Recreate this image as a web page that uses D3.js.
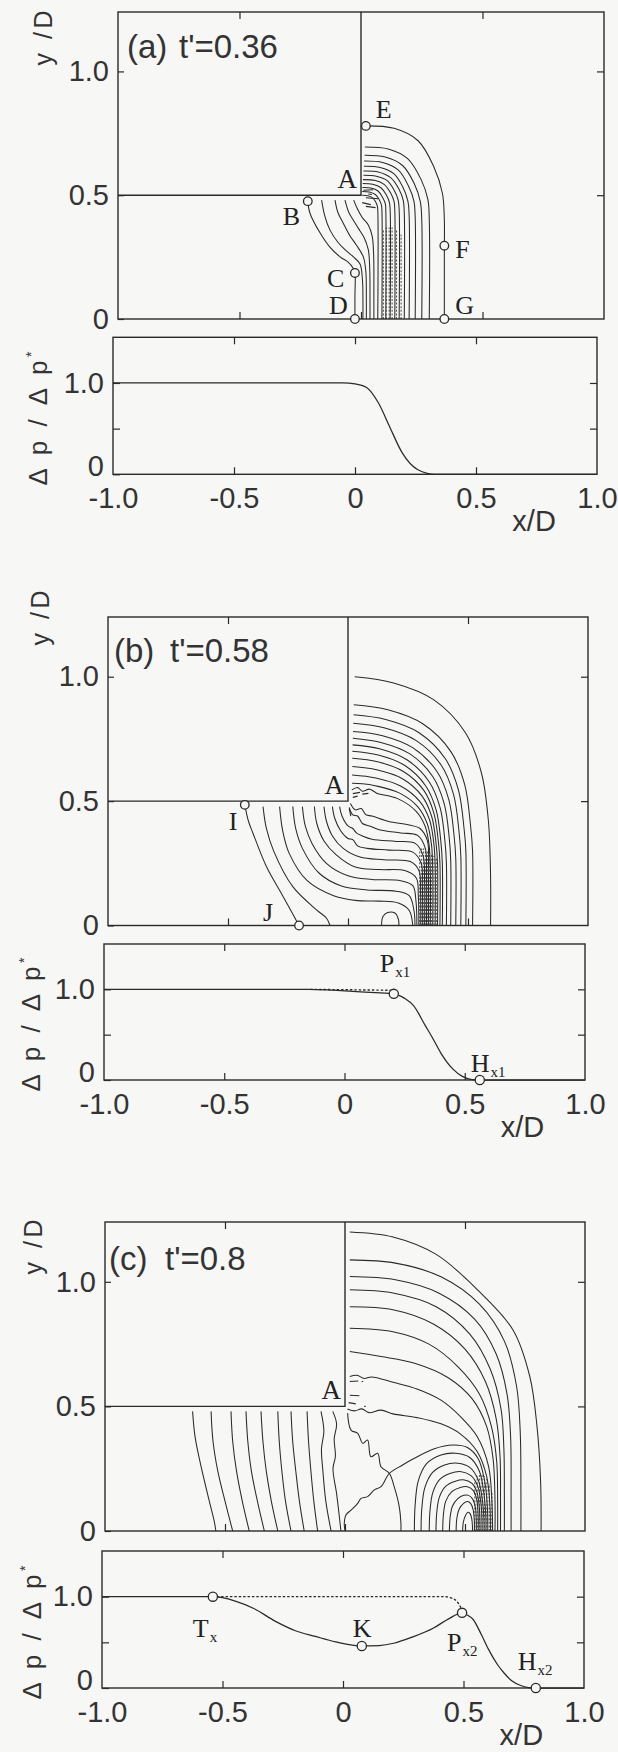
<!DOCTYPE html>
<html>
<head>
<meta charset="utf-8">
<script src="https://cdn.jsdelivr.net/npm/d3@7"></script>
<style>
  html, body { margin: 0; padding: 0; background: #f7f7f6; }
  svg { display: block; }
</style>
</head>
<body>
<svg id="fig" width="618" height="1752"></svg>
<script>
// ---------------- axis values and labels ----------------
const xTicks = [-1.0, -0.5, 0, 0.5, 1.0];
const xTickLabels = ["-1.0", "-0.5", "0", "0.5", "1.0"];
const fieldYTicks = [0, 0.5, 1.0];
const fieldYTickLabels = ["0", "0.5", "1.0"];
const profYTicks = [0, 0.5, 1.0];
const profYTickLabels = ["0", "", "1.0"];
const panelNames = ["(a)", "(b)", "(c)"];
const panelTimes = ["t'=0.36", "t'=0.58", "t'=0.8"];
const FIELD_TOP = 1.24;   // y/D at the top of the contour frames
const PROF_TOP = 1.5;     // Δp/Δp* at the top of the profile frames
const stepY = 0.5;        // lower face of the step, corner A at (0, 0.5)

// ---------------- pressure contours, t'=0.36 ----------------
const fieldA = [
  [[0.02,0.78],[0.136,0.77],[0.235,0.72],[0.30,0.614],[0.335,0.508],[0.343,0.40],[0.343,0.29],[0.343,0]],
  [[0.016,0.695],[0.112,0.687],[0.192,0.648],[0.246,0.566],[0.275,0.484],[0.281,0.40],[0.281,0]],
  [[0.015,0.661],[0.10,0.654],[0.171,0.62],[0.219,0.547],[0.244,0.474],[0.25,0.40],[0.25,0]],
  [[0.013,0.638],[0.089,0.632],[0.153,0.602],[0.195,0.538],[0.218,0.475],[0.223,0.41],[0.223,0]],
  [[0.012,0.617],[0.079,0.612],[0.136,0.586],[0.173,0.531],[0.193,0.476],[0.198,0.42],[0.198,0]],
  [[0.01,0.598],[0.071,0.594],[0.122,0.571],[0.156,0.525],[0.174,0.478],[0.178,0.43],[0.178,0]],
  [[0.01,0.581],[0.063,0.577],[0.108,0.559],[0.137,0.519],[0.153,0.48],[0.157,0.44],[0.157,0]],
  [[0.008,0.563],[0.056,0.56],[0.095,0.544],[0.122,0.509],[0.136,0.475],[0.139,0.44],[0.139,0]],
  [[0.007,0.547],[0.048,0.544],[0.082,0.53],[0.105,0.5],[0.117,0.47],[0.12,0.44],[0.12,0]],
  [[0.006,0.531],[0.041,0.529],[0.07,0.517],[0.089,0.491],[0.1,0.466],[0.102,0.44],[0.102,0]],
  [[0.005,0.515],[0.034,0.513],[0.059,0.503],[0.075,0.482],[0.084,0.461],[0.086,0.44],[0.086,0]],
  [[0.005,0.50],[0.028,0.498],[0.047,0.49],[0.06,0.474],[0.067,0.457],[0.069,0.44],[0.069,0]],
  [[-0.219,0.476],[-0.21,0.427],[-0.17,0.35],[-0.128,0.29],[-0.085,0.25],[-0.053,0.23],[-0.032,0.205],[-0.025,0.186],[-0.025,0.09],[-0.025,0]],
  [[-0.162,0.48],[-0.15,0.42],[-0.128,0.36],[-0.095,0.31],[-0.066,0.28],[-0.03,0.25],[-0.004,0.222],[0.006,0.157],[0.008,0.07],[0.008,0]],
  [[-0.107,0.48],[-0.095,0.43],[-0.072,0.385],[-0.045,0.335],[-0.02,0.3],[0.01,0.25],[0.02,0.19],[0.022,0.08],[0.022,0]],
  [[-0.066,0.48],[-0.05,0.43],[-0.032,0.40],[-0.01,0.365],[0.012,0.33],[0.03,0.28],[0.036,0.2],[0.037,0.08],[0.037,0]],
  [[-0.03,0.48],[-0.015,0.445],[0.005,0.41],[0.03,0.38],[0.046,0.335],[0.052,0.26],[0.053,0.1],[0.053,0]]
];
const noiseA = [
  [[0.01,0.52],[0.05,0.522]], [[0.02,0.49],[0.07,0.486]], [[0.005,0.47],[0.04,0.462]],
  [[0.02,0.455],[0.06,0.45]], [[0.03,0.505],[0.045,0.503]]
];
const denseA = [[0.092,0.36],[0.104,0.37],[0.116,0.37],[0.128,0.37],[0.146,0.36],[0.165,0.34]];

// ---------------- pressure contours, t'=0.58 ----------------
const fieldB = [
  [[0.028,1.0],[0.19,0.975],[0.358,0.907],[0.49,0.774],[0.556,0.613],[0.585,0.42],[0.594,0.2],[0.594,0]],
  [[0.024,0.887],[0.166,0.867],[0.313,0.81],[0.428,0.70],[0.486,0.567],[0.511,0.398],[0.519,0.3],[0.519,0]],
  [[0.023,0.847],[0.157,0.828],[0.296,0.775],[0.405,0.671],[0.46,0.545],[0.484,0.386],[0.491,0.3],[0.491,0]],
  [[0.022,0.813],[0.15,0.795],[0.283,0.744],[0.388,0.645],[0.44,0.526],[0.463,0.373],[0.47,0.28],[0.47,0]],
  [[0.021,0.78],[0.144,0.763],[0.271,0.714],[0.37,0.62],[0.42,0.506],[0.442,0.361],[0.449,0.27],[0.449,0]],
  [[0.02,0.753],[0.137,0.736],[0.258,0.69],[0.353,0.599],[0.401,0.489],[0.422,0.35],[0.428,0.26],[0.428,0]],
  [[0.019,0.726],[0.131,0.71],[0.247,0.665],[0.338,0.578],[0.384,0.473],[0.404,0.338],[0.41,0.25],[0.41,0]],
  [[0.018,0.70],[0.126,0.685],[0.237,0.643],[0.324,0.561],[0.368,0.462],[0.387,0.336],[0.393,0.25],[0.393,0]],
  [[0.018,0.672],[0.123,0.658],[0.231,0.619],[0.316,0.543],[0.358,0.451],[0.377,0.333],[0.383,0.25],[0.383,0]],
  [[0.018,0.639],[0.119,0.626],[0.225,0.591],[0.308,0.521],[0.349,0.437],[0.367,0.33],[0.373,0.25],[0.373,0]],
  [[0.017,0.605],[0.116,0.593],[0.219,0.561],[0.299,0.499],[0.34,0.424],[0.358,0.327],[0.363,0.25],[0.363,0]],
  [[0.017,0.572],[0.06,0.57],[0.113,0.562],[0.213,0.533],[0.291,0.477],[0.33,0.41],[0.348,0.324],[0.353,0.22],[0.353,0]],
  [[0.016,0.545],[0.04,0.555],[0.06,0.54],[0.09,0.548],[0.12,0.532],[0.207,0.51],[0.283,0.46],[0.321,0.40],[0.338,0.322],[0.343,0.22],[0.343,0]],
  [[-0.43,0.485],[-0.415,0.42],[-0.396,0.371],[-0.34,0.237],[-0.27,0.116],[-0.204,0]],
  [[-0.354,0.478],[-0.34,0.39],[-0.31,0.30],[-0.23,0.156],[-0.13,0.062],[-0.09,0.03],[-0.075,0]],
  [[-0.285,0.478],[-0.272,0.38],[-0.245,0.29],[-0.17,0.18],[-0.06,0.12],[0.04,0.10],[0.13,0.098],[0.21,0.09],[0.255,0.06],[0.27,0]],
  [[-0.23,0.478],[-0.218,0.39],[-0.19,0.31],[-0.12,0.21],[-0.03,0.16],[0.08,0.143],[0.2,0.138],[0.255,0.12],[0.275,0.06],[0.279,0]],
  [[-0.19,0.478],[-0.178,0.40],[-0.15,0.33],[-0.09,0.25],[0.0,0.2],[0.1,0.185],[0.22,0.18],[0.27,0.16],[0.283,0.1],[0.287,0]],
  [[-0.14,0.478],[-0.13,0.41],[-0.1,0.34],[-0.05,0.285],[0.03,0.235],[0.13,0.225],[0.24,0.22],[0.285,0.19],[0.293,0.12],[0.295,0]],
  [[-0.10,0.478],[-0.09,0.42],[-0.065,0.36],[-0.02,0.31],[0.05,0.275],[0.15,0.264],[0.26,0.257],[0.296,0.22],[0.302,0.14],[0.303,0]],
  [[-0.065,0.478],[-0.055,0.43],[-0.03,0.38],[0.0,0.35],[0.02,0.345],[0.04,0.32],[0.08,0.31],[0.17,0.303],[0.27,0.295],[0.305,0.25],[0.31,0.16],[0.311,0]],
  [[-0.035,0.478],[-0.025,0.44],[0.0,0.40],[0.02,0.39],[0.035,0.372],[0.06,0.36],[0.1,0.347],[0.2,0.338],[0.28,0.33],[0.313,0.28],[0.319,0.18],[0.319,0]],
  [[0.005,0.475],[0.02,0.445],[0.04,0.44],[0.06,0.41],[0.09,0.40],[0.13,0.385],[0.22,0.372],[0.29,0.362],[0.322,0.31],[0.327,0.2],[0.327,0]],
  [[0.01,0.49],[0.03,0.465],[0.055,0.47],[0.075,0.445],[0.1,0.44],[0.17,0.418],[0.25,0.405],[0.3,0.39],[0.331,0.34],[0.335,0.22],[0.335,0]],
  [[0.14,0],[0.145,0.035],[0.165,0.052],[0.195,0.05],[0.21,0.025],[0.212,0]]
];
const noiseB = [
  [[0.02,0.53],[0.05,0.535]], [[0.06,0.528],[0.085,0.531]], [[0.02,0.515],[0.04,0.52]], [[0.005,0.47],[0.012,0.44]]
];
const denseB = [[0.299,0.3],[0.307,0.31],[0.315,0.31],[0.323,0.31],[0.331,0.3],[0.339,0.3],[0.348,0.29],[0.358,0.28],[0.368,0.27]];

// ---------------- pressure contours, t'=0.8 ----------------
const fieldC = [
  [[0.02,1.20],[0.2,1.18],[0.38,1.11],[0.55,0.97],[0.70,0.807],[0.77,0.62],[0.80,0.42],[0.815,0.2],[0.817,0]],
  [[0.02,1.088],[0.21,1.075],[0.4,1.02],[0.56,0.91],[0.665,0.76],[0.715,0.58],[0.73,0.4],[0.733,0.15],[0.733,0]],
  [[0.02,1.021],[0.21,1.008],[0.39,0.955],[0.54,0.85],[0.63,0.71],[0.675,0.55],[0.69,0.38],[0.692,0.15],[0.692,0]],
  [[0.02,0.968],[0.2,0.955],[0.38,0.9],[0.52,0.79],[0.605,0.65],[0.65,0.49],[0.662,0.33],[0.664,0.15],[0.664,0]],
  [[0.02,0.90],[0.2,0.888],[0.37,0.83],[0.5,0.73],[0.585,0.60],[0.63,0.45],[0.646,0.3],[0.648,0.12],[0.648,0]],
  [[0.02,0.814],[0.2,0.80],[0.35,0.75],[0.47,0.66],[0.56,0.55],[0.61,0.42],[0.632,0.28],[0.636,0.12],[0.636,0]],
  [[0.02,0.72],[0.15,0.70],[0.29,0.673],[0.43,0.615],[0.53,0.53],[0.59,0.42],[0.617,0.29],[0.625,0.12],[0.625,0]],
  [[0.02,0.62],[0.05,0.625],[0.08,0.612],[0.11,0.618],[0.2,0.597],[0.3,0.57],[0.4,0.525],[0.48,0.46],[0.55,0.38],[0.598,0.26],[0.612,0.12],[0.615,0]],
  [[0.01,0.49],[0.04,0.482],[0.07,0.49],[0.1,0.475],[0.15,0.485],[0.2,0.47],[0.3,0.455],[0.4,0.43],[0.48,0.39],[0.55,0.32],[0.59,0.22],[0.604,0.1],[0.606,0]],
  [[0.0,0],[-0.003,0.03],[0.004,0.064],[0.025,0.084],[0.053,0.111],[0.067,0.131],[0.094,0.138],[0.122,0.165],[0.15,0.178],[0.185,0.231],[0.24,0.265],[0.289,0.292],[0.372,0.33],[0.45,0.345],[0.51,0.335],[0.555,0.29],[0.582,0.2],[0.593,0.1],[0.595,0]],
  [[0.011,0.473],[0.025,0.405],[0.053,0.392],[0.074,0.352],[0.094,0.365],[0.108,0.298],[0.136,0.312],[0.15,0.258],[0.185,0.231],[0.205,0.178],[0.226,0.098],[0.233,0.031],[0.233,0]],
  [[0.289,0],[0.292,0.1],[0.305,0.2],[0.34,0.27],[0.40,0.305],[0.46,0.312],[0.52,0.295],[0.56,0.24],[0.58,0.14],[0.587,0.05],[0.587,0]],
  [[0.317,0],[0.32,0.09],[0.333,0.175],[0.365,0.235],[0.415,0.265],[0.47,0.272],[0.52,0.255],[0.555,0.205],[0.573,0.12],[0.579,0.04],[0.579,0]],
  [[0.351,0],[0.354,0.08],[0.366,0.155],[0.395,0.207],[0.44,0.232],[0.485,0.238],[0.525,0.222],[0.553,0.18],[0.567,0.105],[0.571,0.035],[0.571,0]],
  [[0.379,0],[0.382,0.07],[0.393,0.135],[0.42,0.18],[0.46,0.2],[0.498,0.205],[0.53,0.19],[0.55,0.155],[0.56,0.09],[0.563,0]],
  [[0.407,0],[0.41,0.065],[0.42,0.12],[0.445,0.158],[0.48,0.175],[0.51,0.178],[0.535,0.162],[0.549,0.125],[0.555,0.06],[0.555,0]],
  [[0.435,0],[0.438,0.055],[0.448,0.1],[0.47,0.13],[0.495,0.143],[0.515,0.143],[0.532,0.128],[0.543,0.095],[0.547,0.045],[0.547,0]],
  [[0.463,0],[0.466,0.05],[0.476,0.088],[0.493,0.11],[0.51,0.118],[0.524,0.11],[0.534,0.085],[0.539,0.04],[0.539,0]],
  [[0.49,0],[0.493,0.035],[0.502,0.062],[0.512,0.075],[0.521,0.07],[0.528,0.05],[0.531,0.02],[0.531,0]],
  [[-0.635,0.48],[-0.625,0.38],[-0.60,0.26],[-0.568,0.13],[-0.545,0.04],[-0.538,0]],
  [[-0.558,0.48],[-0.55,0.36],[-0.53,0.24],[-0.5,0.12],[-0.468,0]],
  [[-0.475,0.48],[-0.468,0.36],[-0.452,0.24],[-0.428,0.12],[-0.399,0]],
  [[-0.4125,0.48],[-0.405,0.36],[-0.39,0.24],[-0.365,0.12],[-0.336,0]],
  [[-0.35,0.48],[-0.342,0.36],[-0.328,0.24],[-0.307,0.12],[-0.28,0]],
  [[-0.28,0.48],[-0.274,0.36],[-0.263,0.24],[-0.248,0.12],[-0.225,0]],
  [[-0.225,0.48],[-0.218,0.36],[-0.205,0.24],[-0.19,0.12],[-0.17,0]],
  [[-0.158,0.48],[-0.152,0.36],[-0.142,0.24],[-0.13,0.12],[-0.114,0]],
  [[-0.1,0.48],[-0.088,0.40],[-0.098,0.33],[-0.092,0.24],[-0.08,0.12],[-0.058,0]],
  [[-0.051,0.48],[-0.035,0.43],[-0.045,0.37],[-0.04,0.3],[-0.05,0.25],[-0.035,0.15],[-0.025,0.07],[-0.017,0]]
];
const noiseC = [
  [[0.02,0.60],[0.055,0.602]], [[0.07,0.60],[0.076,0.60]], [[0.02,0.545],[0.06,0.543]],
  [[0.015,0.515],[0.045,0.51]], [[0.08,0.50],[0.086,0.50]]
];
const denseC = [[0.541,0.2],[0.551,0.22],[0.561,0.23],[0.571,0.23],[0.581,0.22],[0.591,0.21],[0.601,0.19],[0.612,0.16]];

// ---------------- labelled points in the contour frames ----------------
const fieldMarksA = [
  {name:"E", x:0.02, y:0.78}, {name:"B", x:-0.219, y:0.476}, {name:"C", x:-0.025, y:0.186},
  {name:"D", x:-0.025, y:0}, {name:"F", x:0.343, y:0.296}, {name:"G", x:0.343, y:0}
];
const fieldMarksB = [{name:"I", x:-0.43, y:0.485}, {name:"J", x:-0.204, y:0}];
const fieldMarksC = [];

// ---------------- Δp/Δp* profiles along the floor ----------------
const profA = [[-1,1],[-0.3,1],[-0.05,1],[0.0,0.99],[0.048,0.95],[0.097,0.78],[0.145,0.51],[0.194,0.24],[0.26,0.05],[0.33,0],[1,0]];
const profADot = [];
const profB = [[-1,1],[-0.15,1],[-0.05,0.99],[0.05,0.975],[0.15,0.96],[0.205,0.95],[0.25,0.9],[0.287,0.82],[0.336,0.6],[0.369,0.45],[0.40,0.3],[0.451,0.12],[0.49,0.04],[0.53,0.005],[0.5625,0],[1,0]];
const profBDot = [[-0.14,1.0],[0.195,0.99]];
const profC = [[-1,1],[-0.54,1],[-0.45,0.955],[-0.37,0.87],[-0.28,0.73],[-0.2,0.63],[-0.115,0.565],[-0.03,0.505],[0.078,0.46],[0.15,0.465],[0.21,0.49],[0.29,0.56],[0.376,0.657],[0.44,0.76],[0.494,0.823],[0.515,0.80],[0.54,0.75],[0.575,0.58],[0.605,0.417],[0.64,0.26],[0.67,0.159],[0.70,0.08],[0.735,0.03],[0.77,0.005],[0.80,0],[1,0]];
const profCDot = [[-0.54,1],[0.0,1],[0.42,1.0],[0.45,0.985],[0.47,0.955],[0.485,0.9],[0.494,0.85]];

const profMarksA = [];
const profMarksB = [{name:"P", sub:"x1", x:0.205, y:0.95}, {name:"H", sub:"x1", x:0.5625, y:0}];
const profMarksC = [
  {name:"T", sub:"x", x:-0.54, y:1.0}, {name:"K", sub:"", x:0.078, y:0.46},
  {name:"P", sub:"x2", x:0.494, y:0.823}, {name:"H", sub:"x2", x:0.80, y:0}
];

// ---------------- page layout (pixels) ----------------
const layout = [
  { field:{x:[118,604], y:[319,12]},   prof:{x:[113,597], y:[474.3,337.3]},
    yLab:[52,38],   pLab:[47,423],   title:[127,58],   gap:52 },
  { field:{x:[108,588], y:[925.5,617]}, prof:{x:[104,585], y:[1080,944]},
    yLab:[49,618],  pLab:[40,1029],  title:[114,662],  gap:56 },
  { field:{x:[105,585], y:[1531,1222]}, prof:{x:[102,584], y:[1688,1551]},
    yLab:[42,1247], pLab:[41,1637],  title:[109,1270], gap:56 }
];
// label offsets (pixels from a marker centre to the label's start/baseline)
const labelOffsets = {
  E:[10,-8], B:[-25,24], C:[-28,14], D:[-26,-5], F:[11,12], G:[11,-5], I:[-16,25], J:[-36,-5],
  "P1":[-14,-22], "H1":[-9,-8], "T":[-20,40], "K":[-9,-9], "P2":[-15,38], "H2":[-18,-18]
};

const fields = [fieldA, fieldB, fieldC];
const noises = [noiseA, noiseB, noiseC];
const denses = [denseA, denseB, denseC];
const fieldMarks = [fieldMarksA, fieldMarksB, fieldMarksC];
const profs = [profA, profB, profC];
const profDots = [profADot, profBDot, profCDot];
const profMarks = [profMarksA, profMarksB, profMarksC];

// ---------------- drawing ----------------
const SANS = "'Liberation Sans', Arial, Helvetica, sans-serif";
const SERIF = "'Liberation Serif', 'Times New Roman', serif";
const ink = "#2a2a2a";
const bg = "#f7f7f6";
const svg = d3.select("#fig");
svg.append("rect").attr("width", 618).attr("height", 1752).attr("fill", bg);
const defs = svg.append("defs");

function styleAxis(g, fontSize) {
  g.select(".domain").remove();
  g.attr("font-family", SANS).attr("font-size", fontSize).attr("color", ink);
  g.selectAll(".tick line").attr("stroke", ink).attr("stroke-width", 1.2);
  g.selectAll(".tick text").attr("fill", "#333");
}

function frame(g, sx, sy, yTop) {
  g.append("rect")
    .attr("x", sx(-1)).attr("y", sy(yTop))
    .attr("width", sx(1) - sx(-1)).attr("height", sy(0) - sy(yTop))
    .attr("fill", "none").attr("stroke", ink).attr("stroke-width", 1.4);
}

function markerLabel(g, m, px, py, key) {
  const off = labelOffsets[key];
  const t = g.append("text")
    .attr("x", px + off[0]).attr("y", py + off[1])
    .attr("font-family", SERIF).attr("font-size", 26).attr("fill", "#222")
    .text(m.name);
  if (m.sub) {
    t.append("tspan").attr("font-size", 15).attr("dx", 1).attr("dy", 5).text(m.sub);
  }
}

const contourLine = (sx, sy) => d3.line()
  .x(d => sx(d[0])).y(d => sy(d[1]))
  .curve(d3.curveCatmullRom.alpha(0.5));
const profileLine = (sx, sy) => d3.line()
  .x(d => sx(d[0])).y(d => sy(d[1]))
  .curve(d3.curveMonotoneX);

layout.forEach((L, i) => {
  const g = svg.append("g");

  // ===== contour frame =====
  const fx = d3.scaleLinear().domain([-1, 1]).range(L.field.x);
  const fy = d3.scaleLinear().domain([0, FIELD_TOP]).range(L.field.y);

  defs.append("clipPath").attr("id", "clip" + i)
    .append("rect").attr("x", fx(-1)).attr("y", fy(FIELD_TOP))
    .attr("width", fx(1) - fx(-1)).attr("height", fy(0) - fy(FIELD_TOP));

  const cg = g.append("g").attr("clip-path", `url(#clip${i})`);
  // dense band of closely packed isobars
  cg.append("g").selectAll("line").data(denses[i]).join("line")
    .attr("x1", d => fx(d[0])).attr("x2", d => fx(d[0]))
    .attr("y1", fy(0)).attr("y2", d => fy(d[1]))
    .attr("stroke", "#555").attr("stroke-width", 1.1)
    .attr("stroke-dasharray", "2 1.6");
  cg.append("g").selectAll("path").data(fields[i]).join("path")
    .attr("d", contourLine(fx, fy))
    .attr("fill", "none").attr("stroke", ink).attr("stroke-width", 1.05);
  cg.append("g").selectAll("path").data(noises[i]).join("path")
    .attr("d", d3.line().x(d => fx(d[0])).y(d => fy(d[1])))
    .attr("fill", "none").attr("stroke", ink).attr("stroke-width", 1.1);

  // step: lower face at y/D=0.5 and vertical face at x/D=0
  g.append("path")
    .attr("d", d3.line().x(d => fx(d[0])).y(d => fy(d[1]))([[-1, stepY], [0, stepY], [0, FIELD_TOP]]))
    .attr("fill", "none").attr("stroke", ink).attr("stroke-width", 1.4);
  frame(g, fx, fy, FIELD_TOP);

  styleAxis(g.append("g").attr("transform", `translate(0,${fy(0)})`)
    .call(d3.axisBottom(fx).tickValues([-0.5, 0, 0.5]).tickSize(-7).tickFormat("")), 29);
  styleAxis(g.append("g").attr("transform", `translate(0,${fy(FIELD_TOP)})`)
    .call(d3.axisTop(fx).tickValues([-0.5, 0.5]).tickSize(-7).tickFormat("")), 29);
  styleAxis(g.append("g").attr("transform", `translate(${fx(-1)},0)`)
    .call(d3.axisLeft(fy).tickValues(fieldYTicks).tickSize(-6).tickPadding(9)
      .tickFormat((d, k) => fieldYTickLabels[k])), 29);
  styleAxis(g.append("g").attr("transform", `translate(${fx(1)},0)`)
    .call(d3.axisRight(fy).tickValues([0.5, 1.0]).tickSize(-7).tickFormat("")), 29);

  // corner label A
  g.append("text").attr("x", fx(0) - 4).attr("y", fy(stepY) - 7)
    .attr("text-anchor", "end").attr("font-family", SERIF).attr("font-size", 27)
    .attr("fill", "#222").text("A");

  fieldMarks[i].forEach(m => {
    const px = fx(m.x), py = fy(m.y);
    g.append("circle").attr("cx", px).attr("cy", py).attr("r", 4.3)
      .attr("fill", bg).attr("stroke", ink).attr("stroke-width", 1.3);
    markerLabel(g, m, px, py, m.name);
  });

  // panel title
  g.append("text").attr("x", L.title[0]).attr("y", L.title[1])
    .attr("font-family", SANS).attr("font-size", 33).attr("fill", "#333").text(panelNames[i]);
  g.append("text").attr("x", L.title[0] + L.gap).attr("y", L.title[1])
    .attr("font-family", SANS).attr("font-size", 33).attr("fill", "#333").text(panelTimes[i]);

  // y/D
  g.append("text")
    .attr("transform", `translate(${L.yLab[0]},${L.yLab[1]}) rotate(-90)`)
    .attr("text-anchor", "middle").attr("font-family", SANS).attr("font-size", 25)
    .attr("fill", "#333").attr("textLength", 55).attr("lengthAdjust", "spacing")
    .text("y /D");

  // ===== profile frame =====
  const px = d3.scaleLinear().domain([-1, 1]).range(L.prof.x);
  const py = d3.scaleLinear().domain([0, PROF_TOP]).range(L.prof.y);
  frame(g, px, py, PROF_TOP);

  const xb = g.append("g").attr("transform", `translate(0,${py(0)})`)
    .call(d3.axisBottom(px).tickValues(xTicks).tickSize(-7).tickPadding(13)
      .tickFormat((d, k) => xTickLabels[k]));
  styleAxis(xb, 29);
  xb.selectAll(".tick").filter(d => Math.abs(d) === 1).select("line").remove();
  styleAxis(g.append("g").attr("transform", `translate(0,${py(PROF_TOP)})`)
    .call(d3.axisTop(px).tickValues([-0.5, 0, 0.5]).tickSize(-7).tickFormat("")), 29);
  const yl = g.append("g").attr("transform", `translate(${px(-1)},0)`)
    .call(d3.axisLeft(py).tickValues(profYTicks).tickSize(-7).tickPadding(9)
      .tickFormat((d, k) => profYTickLabels[k]));
  styleAxis(yl, 29);
  yl.selectAll(".tick").filter(d => d === 0).select("text").attr("y", -8);
  styleAxis(g.append("g").attr("transform", `translate(${px(1)},0)`)
    .call(d3.axisRight(py).tickValues([0.5, 1.0]).tickSize(-7).tickFormat("")), 29);

  // x/D
  g.append("text").attr("x", px(0.74)).attr("y", py(0) + 57)
    .attr("text-anchor", "middle").attr("font-family", SANS).attr("font-size", 29)
    .attr("fill", "#333").text("x/D");

  // Δp/Δp*
  const pl = g.append("g").attr("transform", `translate(${L.pLab[0]},${L.pLab[1]}) rotate(-90)`);
  pl.append("text").attr("text-anchor", "middle").attr("font-family", SANS).attr("font-size", 26)
    .attr("fill", "#333").attr("textLength", 125).attr("lengthAdjust", "spacing")
    .text("Δ p / Δ p");
  pl.append("text").attr("x", 66).attr("y", -11).attr("font-family", SANS).attr("font-size", 14)
    .attr("fill", "#333").text("*");

  if (profDots[i].length) {
    g.append("path").attr("d", profileLine(px, py)(profDots[i]))
      .attr("fill", "none").attr("stroke", ink).attr("stroke-width", 1.4)
      .attr("stroke-dasharray", "1.4 3").attr("stroke-linecap", "round");
  }
  g.append("path").attr("d", profileLine(px, py)(profs[i]))
    .attr("fill", "none").attr("stroke", ink).attr("stroke-width", 1.25);

  profMarks[i].forEach(m => {
    const cx = px(m.x), cy = py(m.y);
    g.append("circle").attr("cx", cx).attr("cy", cy).attr("r", 4.6)
      .attr("fill", bg).attr("stroke", ink).attr("stroke-width", 1.3);
    const key = m.name === "P" || m.name === "H" ? m.name + m.sub.slice(-1) : m.name;
    markerLabel(g, m, cx, cy, key);
  });
});
</script>
</body>
</html>
